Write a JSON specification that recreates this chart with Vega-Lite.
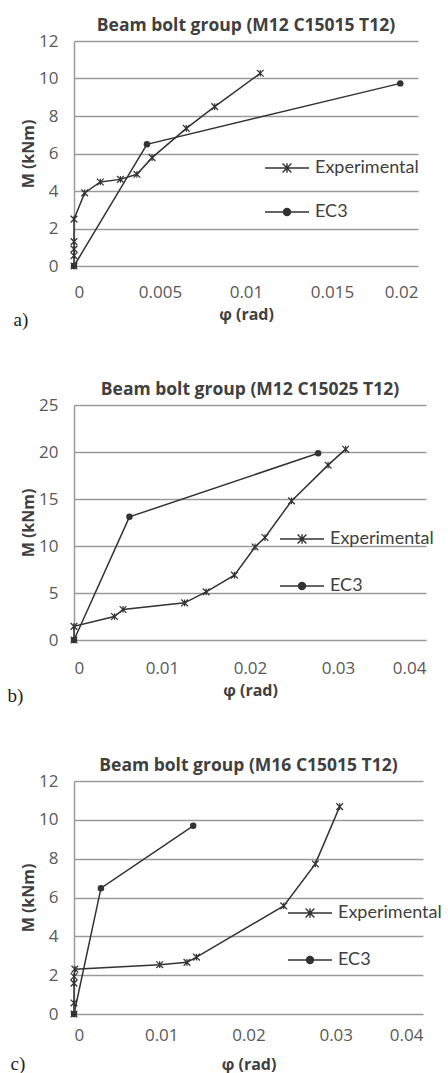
{
  "$schema": "https://vega.github.io/schema/vega-lite/v6.json",
  "background": "white",
  "padding": {"left": 7, "top": 16, "right": 0, "bottom": 0},
  "spacing": 50,
  "resolve": {"scale": {"color": "independent", "stroke": "independent"}, "legend": {"color": "independent", "stroke": "independent"}},
  "datasets": {
    "d": [
      {"p": "a", "s": "Experimental", "k": 0, "phi": 0, "M": 0},
      {"p": "a", "s": "Experimental", "k": 1, "phi": 0, "M": 0.55},
      {"p": "a", "s": "Experimental", "k": 2, "phi": 0, "M": 0.9},
      {"p": "a", "s": "Experimental", "k": 3, "phi": 0, "M": 1.3},
      {"p": "a", "s": "Experimental", "k": 4, "phi": 0, "M": 2.5},
      {"p": "a", "s": "Experimental", "k": 5, "phi": 0.00062, "M": 3.9},
      {"p": "a", "s": "Experimental", "k": 6, "phi": 0.00153, "M": 4.48},
      {"p": "a", "s": "Experimental", "k": 7, "phi": 0.0027, "M": 4.62},
      {"p": "a", "s": "Experimental", "k": 8, "phi": 0.00366, "M": 4.89},
      {"p": "a", "s": "Experimental", "k": 9, "phi": 0.00454, "M": 5.78},
      {"p": "a", "s": "Experimental", "k": 10, "phi": 0.00653, "M": 7.34},
      {"p": "a", "s": "Experimental", "k": 11, "phi": 0.00818, "M": 8.5},
      {"p": "a", "s": "Experimental", "k": 12, "phi": 0.01083, "M": 10.28},
      {"p": "a", "s": "EC3", "k": 0, "phi": 0, "M": 0},
      {"p": "a", "s": "EC3", "k": 1, "phi": 0.00424, "M": 6.49},
      {"p": "a", "s": "EC3", "k": 2, "phi": 0.01897, "M": 9.74},
      {"p": "b", "s": "Experimental", "k": 0, "phi": 0, "M": 0},
      {"p": "b", "s": "Experimental", "k": 1, "phi": 0, "M": 1.45},
      {"p": "b", "s": "Experimental", "k": 2, "phi": 0.0046, "M": 2.5},
      {"p": "b", "s": "Experimental", "k": 3, "phi": 0.00557, "M": 3.25},
      {"p": "b", "s": "Experimental", "k": 4, "phi": 0.01257, "M": 3.95},
      {"p": "b", "s": "Experimental", "k": 5, "phi": 0.01502, "M": 5.12},
      {"p": "b", "s": "Experimental", "k": 6, "phi": 0.01823, "M": 6.9},
      {"p": "b", "s": "Experimental", "k": 7, "phi": 0.02057, "M": 9.9},
      {"p": "b", "s": "Experimental", "k": 8, "phi": 0.0217, "M": 10.9},
      {"p": "b", "s": "Experimental", "k": 9, "phi": 0.02472, "M": 14.8},
      {"p": "b", "s": "Experimental", "k": 10, "phi": 0.02887, "M": 18.6},
      {"p": "b", "s": "Experimental", "k": 11, "phi": 0.03087, "M": 20.3},
      {"p": "b", "s": "EC3", "k": 0, "phi": 0, "M": 0},
      {"p": "b", "s": "EC3", "k": 1, "phi": 0.0063, "M": 13.1},
      {"p": "b", "s": "EC3", "k": 2, "phi": 0.02774, "M": 19.86},
      {"p": "c", "s": "Experimental", "k": 0, "phi": 0, "M": 0},
      {"p": "c", "s": "Experimental", "k": 1, "phi": 0, "M": 0.57},
      {"p": "c", "s": "Experimental", "k": 2, "phi": 0, "M": 1.59},
      {"p": "c", "s": "Experimental", "k": 3, "phi": 0, "M": 1.93},
      {"p": "c", "s": "Experimental", "k": 4, "phi": 0.0001, "M": 2.31},
      {"p": "c", "s": "Experimental", "k": 5, "phi": 0.00982, "M": 2.54},
      {"p": "c", "s": "Experimental", "k": 6, "phi": 0.01295, "M": 2.66},
      {"p": "c", "s": "Experimental", "k": 7, "phi": 0.01404, "M": 2.93},
      {"p": "c", "s": "Experimental", "k": 8, "phi": 0.02404, "M": 5.57},
      {"p": "c", "s": "Experimental", "k": 9, "phi": 0.02766, "M": 7.73},
      {"p": "c", "s": "Experimental", "k": 10, "phi": 0.03045, "M": 10.68},
      {"p": "c", "s": "EC3", "k": 0, "phi": 0, "M": 0},
      {"p": "c", "s": "EC3", "k": 1, "phi": 0.00309, "M": 6.48},
      {"p": "c", "s": "EC3", "k": 2, "phi": 0.01366, "M": 9.69}
    ]
  },
  "vconcat": [
    {
      "title": {"text": "a)", "orient": "bottom", "anchor": "start", "font": "Liberation Serif", "fontSize": 19, "fontWeight": "normal", "color": "#222222", "offset": -11, "dx": -7},
      "resolve": {"scale": {"color": "independent", "stroke": "independent"}, "legend": {"color": "independent", "stroke": "independent"}},
      "vconcat": [
        {
          "width": 344,
          "height": 225,
          "title": {"text": "Beam bolt group (M12 C15015 T12)", "font": "Open Sans", "fontSize": 17.5, "fontWeight": "bold", "color": "#404040", "offset": -2},
          "data": {"name": "d"},
          "transform": [{"filter": "datum.p === 'a'"}],
          "encoding": {
            "x": {"field": "phi", "type": "quantitative", "scale": {"domain": [0, 0.02], "nice": false}, "axis": {"values": [0, 0.005, 0.01, 0.015, 0.02], "format": "~g", "title": "φ (rad)", "grid": false, "domain": false, "labelPadding": 18, "titlePadding": 6}},
            "y": {"field": "M", "type": "quantitative", "scale": {"domain": [0, 12], "nice": false}, "axis": {"values": [0, 2, 4, 6, 8, 10, 12], "title": "M (kNm)", "labelPadding": 16, "titlePadding": 2}}
          },
          "layer": [
            {"transform": [{"filter": "datum.s === 'Experimental'"}],
             "mark": {"type": "line", "strokeWidth": 1.5},
             "encoding": {"order": {"field": "k"},
               "color": {"field": "s", "type": "nominal", "scale": {"domain": ["Experimental"], "range": ["#333333"]},
                 "legend": {"orient": "none", "legendX": 190, "legendY": 104, "title": null, "padding": 0, "labelFont": "Lato", "labelFontSize": 18, "labelColor": "#404040", "labelOffset": 5, "symbolSize": 1936, "symbolType": "M-1,0L1,0M-0.2,-0.2L0.2,0.2M-0.2,0.2L0.2,-0.2M0,-0.22L0,0.22", "symbolStrokeWidth": 1.4, "symbolFillColor": "#333333"}}}},
            {"transform": [{"filter": "datum.s === 'EC3'"}],
             "mark": {"type": "line", "strokeWidth": 1.5},
             "encoding": {"order": {"field": "k"},
               "stroke": {"field": "s", "type": "nominal", "scale": {"domain": ["EC3"], "range": ["#333333"]},
                 "legend": {"orient": "none", "legendX": 190, "legendY": 148, "title": null, "padding": 0, "labelFont": "Lato", "labelFontSize": 18, "labelColor": "#404040", "labelOffset": 5, "symbolSize": 1936, "symbolType": "M-1,0L1,0M0.16,0A0.16,0.16,0,1,1,-0.16,0A0.16,0.16,0,1,1,0.16,0", "symbolStrokeWidth": 1.4, "symbolFillColor": "#333333"}}}},
            {"transform": [{"filter": "datum.s === 'Experimental'"}],
             "mark": {"type": "point", "shape": "M-1,-1L1,1M-1,1L1,-1M0,-1L0,1", "filled": false, "color": "#333333", "strokeWidth": 1.2, "size": 45, "opacity": 1}},
            {"transform": [{"filter": "datum.s === 'EC3'"}],
             "mark": {"type": "point", "shape": "circle", "filled": true, "color": "#333333", "size": 42, "opacity": 1}}
          ]
        }
      ]
    },
    {
      "title": {"text": "b)", "orient": "bottom", "anchor": "start", "font": "Liberation Serif", "fontSize": 19, "fontWeight": "normal", "color": "#222222", "offset": -11, "dx": -13},
      "resolve": {"scale": {"color": "independent", "stroke": "independent"}, "legend": {"color": "independent", "stroke": "independent"}},
      "vconcat": [
        {
          "width": 352,
          "height": 235,
          "title": {"text": "Beam bolt group (M12 C15025 T12)", "font": "Open Sans", "fontSize": 17.5, "fontWeight": "bold", "color": "#404040", "offset": -2},
          "data": {"name": "d"},
          "transform": [{"filter": "datum.p === 'b'"}],
          "encoding": {
            "x": {"field": "phi", "type": "quantitative", "scale": {"domain": [0, 0.04], "nice": false}, "axis": {"values": [0, 0.01, 0.02, 0.03, 0.04], "format": "~g", "title": "φ (rad)", "grid": false, "domain": false, "labelPadding": 20, "titlePadding": 6}},
            "y": {"field": "M", "type": "quantitative", "scale": {"domain": [0, 25], "nice": false}, "axis": {"values": [0, 5, 10, 15, 20, 25], "title": "M (kNm)", "labelPadding": 16, "titlePadding": 2}}
          },
          "layer": [
            {"transform": [{"filter": "datum.s === 'Experimental'"}],
             "mark": {"type": "line", "strokeWidth": 1.5},
             "encoding": {"order": {"field": "k"},
               "color": {"field": "s", "type": "nominal", "scale": {"domain": ["Experimental"], "range": ["#333333"]},
                 "legend": {"orient": "none", "legendX": 205, "legendY": 111, "title": null, "padding": 0, "labelFont": "Lato", "labelFontSize": 18, "labelColor": "#404040", "labelOffset": 5, "symbolSize": 1936, "symbolType": "M-1,0L1,0M-0.2,-0.2L0.2,0.2M-0.2,0.2L0.2,-0.2M0,-0.22L0,0.22", "symbolStrokeWidth": 1.4, "symbolFillColor": "#333333"}}}},
            {"transform": [{"filter": "datum.s === 'EC3'"}],
             "mark": {"type": "line", "strokeWidth": 1.5},
             "encoding": {"order": {"field": "k"},
               "stroke": {"field": "s", "type": "nominal", "scale": {"domain": ["EC3"], "range": ["#333333"]},
                 "legend": {"orient": "none", "legendX": 205, "legendY": 158, "title": null, "padding": 0, "labelFont": "Lato", "labelFontSize": 18, "labelColor": "#404040", "labelOffset": 5, "symbolSize": 1936, "symbolType": "M-1,0L1,0M0.16,0A0.16,0.16,0,1,1,-0.16,0A0.16,0.16,0,1,1,0.16,0", "symbolStrokeWidth": 1.4, "symbolFillColor": "#333333"}}}},
            {"transform": [{"filter": "datum.s === 'Experimental'"}],
             "mark": {"type": "point", "shape": "M-1,-1L1,1M-1,1L1,-1M0,-1L0,1", "filled": false, "color": "#333333", "strokeWidth": 1.2, "size": 45, "opacity": 1}},
            {"transform": [{"filter": "datum.s === 'EC3'"}],
             "mark": {"type": "point", "shape": "circle", "filled": true, "color": "#333333", "size": 42, "opacity": 1}}
          ]
        }
      ]
    },
    {
      "title": {"text": "c)", "orient": "bottom", "anchor": "start", "font": "Liberation Serif", "fontSize": 19, "fontWeight": "normal", "color": "#222222", "offset": -17, "dx": -10},
      "resolve": {"scale": {"color": "independent", "stroke": "independent"}, "legend": {"color": "independent", "stroke": "independent"}},
      "vconcat": [
        {
          "width": 349,
          "height": 233,
          "title": {"text": "Beam bolt group (M16 C15015 T12)", "font": "Open Sans", "fontSize": 17.5, "fontWeight": "bold", "color": "#404040", "offset": -2},
          "data": {"name": "d"},
          "transform": [{"filter": "datum.p === 'c'"}],
          "encoding": {
            "x": {"field": "phi", "type": "quantitative", "scale": {"domain": [0, 0.04], "nice": false}, "axis": {"values": [0, 0.01, 0.02, 0.03, 0.04], "format": "~g", "title": "φ (rad)", "grid": false, "domain": false, "labelPadding": 13, "titlePadding": 13}},
            "y": {"field": "M", "type": "quantitative", "scale": {"domain": [0, 12], "nice": false}, "axis": {"values": [0, 2, 4, 6, 8, 10, 12], "title": "M (kNm)", "labelPadding": 16, "titlePadding": 2}}
          },
          "layer": [
            {"transform": [{"filter": "datum.s === 'Experimental'"}],
             "mark": {"type": "line", "strokeWidth": 1.5},
             "encoding": {"order": {"field": "k"},
               "color": {"field": "s", "type": "nominal", "scale": {"domain": ["Experimental"], "range": ["#333333"]},
                 "legend": {"orient": "none", "legendX": 213, "legendY": 109, "title": null, "padding": 0, "labelFont": "Lato", "labelFontSize": 18, "labelColor": "#404040", "labelOffset": 5, "symbolSize": 1936, "symbolType": "M-1,0L1,0M-0.2,-0.2L0.2,0.2M-0.2,0.2L0.2,-0.2M0,-0.22L0,0.22", "symbolStrokeWidth": 1.4, "symbolFillColor": "#333333"}}}},
            {"transform": [{"filter": "datum.s === 'EC3'"}],
             "mark": {"type": "line", "strokeWidth": 1.5},
             "encoding": {"order": {"field": "k"},
               "stroke": {"field": "s", "type": "nominal", "scale": {"domain": ["EC3"], "range": ["#333333"]},
                 "legend": {"orient": "none", "legendX": 213, "legendY": 156, "title": null, "padding": 0, "labelFont": "Lato", "labelFontSize": 18, "labelColor": "#404040", "labelOffset": 5, "symbolSize": 1936, "symbolType": "M-1,0L1,0M0.16,0A0.16,0.16,0,1,1,-0.16,0A0.16,0.16,0,1,1,0.16,0", "symbolStrokeWidth": 1.4, "symbolFillColor": "#333333"}}}},
            {"transform": [{"filter": "datum.s === 'Experimental'"}],
             "mark": {"type": "point", "shape": "M-1,-1L1,1M-1,1L1,-1M0,-1L0,1", "filled": false, "color": "#333333", "strokeWidth": 1.2, "size": 45, "opacity": 1}},
            {"transform": [{"filter": "datum.s === 'EC3'"}],
             "mark": {"type": "point", "shape": "circle", "filled": true, "color": "#333333", "size": 42, "opacity": 1}}
          ]
        }
      ]
    }
  ],
  "config": {
    "view": {"stroke": null},
    "axis": {"labelFont": "Open Sans", "labelFontSize": 17, "labelColor": "#595959", "titleFont": "Open Sans", "titleFontSize": 16, "titleFontWeight": "bold", "titleColor": "#404040", "ticks": false, "gridColor": "#9a9a9a", "gridWidth": 1.5, "domainColor": "#9a9a9a", "domainWidth": 1.5}
  }
}
